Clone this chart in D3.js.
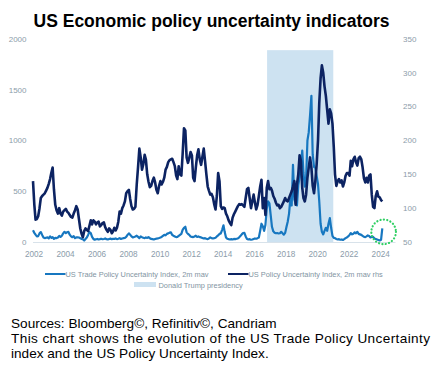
<!DOCTYPE html>
<html><head><meta charset="utf-8">
<script src="https://cdnjs.cloudflare.com/ajax/libs/d3/7.8.5/d3.min.js"></script>
<style>body{margin:0;background:#fff;}svg{display:block;font-family:"Liberation Sans",Arial,sans-serif;}</style>
</head><body>
<script>
// ---- data (monthly, starting Jan 2002) ----
const startYear = 2002;
const tradePolicyUncertainty = [
115,90,72,55,58,85,98,70,45,38,42,45,
36,55,40,48,30,40,38,45,60,50,62,85,
100,88,96,100,72,55,47,58,38,45,46,44,
38,30,27,14,30,45,70,98,88,50,30,22,
27,30,25,28,32,27,30,35,28,25,30,33,
28,32,30,35,28,32,38,30,35,38,40,50,
70,85,72,55,45,50,55,62,50,38,55,48,
42,38,45,40,48,36,30,28,25,30,33,36,
40,45,50,60,70,66,80,85,92,95,70,62,
55,48,50,60,70,80,120,140,150,95,80,70,
55,50,48,55,62,50,55,48,45,40,35,38,
32,28,35,45,38,35,38,42,55,65,80,85,
120,165,100,45,32,28,25,28,25,30,28,32,
35,45,60,75,88,90,55,30,25,28,22,25,
30,35,32,38,45,110,180,155,110,170,330,400,
380,260,150,105,92,86,88,84,86,100,86,72,
90,150,200,280,430,360,760,420,380,360,560,640,
760,900,680,545,620,1000,1080,1250,1440,860,740,730,
650,570,400,180,100,75,110,140,110,180,235,140,
60,40,38,30,25,28,22,25,20,28,38,45,
55,70,88,75,82,95,85,100,80,75,70,60,
52,48,55,65,60,45,52,50,35,30,25,20,
15,22,135];
const policyUncertainty = [
140,105,83,84,88,100,115,118,120,122,126,130,
136,143,152,160,128,105,97,92,100,92,89,95,
97,99,95,93,90,87,86,92,97,103,98,84,
70,62,57,66,70,68,66,74,82,76,82,80,
76,79,80,73,75,78,79,72,68,65,70,68,
63,66,71,67,71,80,95,92,100,104,110,122,
125,127,114,103,98,99,102,135,161,188,175,157,
165,179,172,150,139,131,133,140,145,138,127,122,
133,140,135,139,145,157,161,168,171,172,173,168,
162,148,143,162,150,148,180,218,215,175,167,174,
183,178,145,140,160,178,187,172,164,176,188,170,
150,132,126,120,121,116,106,98,118,152,140,103,
99,101,100,92,88,82,78,75,86,91,95,99,
103,106,105,106,104,102,115,128,130,115,100,110,
120,108,98,105,118,132,142,100,115,90,130,140,
128,130,126,118,114,108,104,105,100,102,106,110,
115,111,110,115,120,125,132,140,105,135,150,178,
170,130,115,110,120,145,160,175,160,133,122,140,
165,200,255,292,311,300,280,266,245,225,246,240,
225,190,150,133,140,143,138,141,132,138,148,152,
152,148,170,162,172,176,168,163,174,176,172,160,
144,138,145,138,148,150,120,102,100,118,125,117,
116,112,110];
const leftTicks = [0,500,1000,1500,2000];
const rightTicks = [50,100,150,200,250,300,350];
const yearTicks = [2002,2004,2006,2008,2010,2012,2014,2016,2018,2020,2022,2024];
const trumpStart = new Date(2016,10,8), trumpEnd = new Date(2021,0,20);
const bandTopValue = 1890;
const highlight = {date: new Date(2024,3,1), value: 100};

const title = "US Economic policy uncertainty indicators";
const seriesNames = ["US Trade Policy Uncertainty Index, 2m mav","US Policy Uncertainty Index, 2m mav rhs","Donald Trump presidency"];
const footer = ["Sources: Bloomberg©, Refinitiv©, Candriam",
"This chart shows the evolution of the US Trade Policy Uncertainty",
"index and the US Policy Uncertainty Index."];

// ---- chart ----
const W=444,H=370;
const svg=d3.select("body").append("svg").attr("width",W).attr("height",H);
const x=d3.scaleTime().domain([new Date(2002,0,1),new Date(2025,0,1)]).range([33,395.5]);
const yL=d3.scaleLinear().domain([0,2000]).range([242,39]);
const yR=d3.scaleLinear().domain([50,350]).range([242,39]);
const date=i=>d3.timeMonth.offset(new Date(startYear,0,1),i);
const tickCol="#8c9caa", legCol="#8294a2";
const cLight="#1777c0", cDark="#0c2362", cBand="#cde2f1";

svg.append("text").attr("x",211.5).attr("y",27).attr("text-anchor","middle")
  .attr("font-size",17.5).attr("font-weight","bold").attr("fill","#000").text(title);

// band
svg.append("rect").attr("x",x(trumpStart)).attr("width",x(trumpEnd)-x(trumpStart))
  .attr("y",yL(bandTopValue)).attr("height",yL(0)-yL(bandTopValue)).attr("fill",cBand);

// baseline
svg.append("line").attr("x1",33).attr("x2",395.5).attr("y1",yL(0)+0.5).attr("y2",yL(0)+0.5)
  .attr("stroke","#d8e2ea").attr("stroke-width",1);

// axes labels
svg.append("g").selectAll("text").data(leftTicks).join("text")
  .attr("x",26.5).attr("y",d=>yL(d)).attr("dy","0.35em").attr("text-anchor","end")
  .attr("font-size",8).attr("fill",tickCol).text(d=>d);
svg.append("g").selectAll("text").data(rightTicks).join("text")
  .attr("x",403).attr("y",d=>yR(d)).attr("dy","0.35em").attr("text-anchor","start")
  .attr("font-size",8).attr("fill",tickCol).text(d=>d);
svg.append("g").selectAll("text").data(yearTicks).join("text")
  .attr("x",d=>x(new Date(d,0,1))+1).attr("y",257).attr("text-anchor","middle")
  .attr("font-size",8.2).attr("fill",tickCol).text(d=>d);

// lines
const lineL=d3.line().x((d,i)=>x(date(i))).y(d=>yL(d));
const lineR=d3.line().x((d,i)=>x(date(i))).y(d=>yR(d));
svg.append("path").datum(tradePolicyUncertainty).attr("d",lineL).attr("fill","none")
  .attr("stroke",cLight).attr("stroke-width",2.2).attr("stroke-linejoin","round");
svg.append("path").datum(policyUncertainty).attr("d",lineR).attr("fill","none")
  .attr("stroke",cDark).attr("stroke-width",2.6).attr("stroke-linejoin","round");

// highlight circle
svg.append("circle").attr("cx",x(highlight.date)).attr("cy",yL(highlight.value)).attr("r",12.3)
  .attr("fill","none").attr("stroke","#2fcf63").attr("stroke-width",2.2)
  .attr("stroke-dasharray","0.1 3.3").attr("stroke-linecap","round");

// legend
const lg=svg.append("g").attr("font-size",7.4).attr("fill",legCol);
lg.append("line").attr("x1",45).attr("x2",65.5).attr("y1",274).attr("y2",274).attr("stroke",cLight).attr("stroke-width",2);
lg.append("text").attr("x",65.5).attr("y",276.6).text(seriesNames[0]);
lg.append("line").attr("x1",228).attr("x2",248.5).attr("y1",274).attr("y2",274).attr("stroke",cDark).attr("stroke-width",2);
lg.append("text").attr("x",248.5).attr("y",276.6).text(seriesNames[1]);
lg.append("rect").attr("x",134).attr("y",282).attr("width",22).attr("height",5).attr("fill",cBand);
lg.append("text").attr("x",158.5).attr("y",287.6).text(seriesNames[2]);

// footer
const ft=svg.append("g").attr("font-size",13.6).attr("fill","#000");
ft.append("text").attr("x",11).attr("y",328.3).text(footer[0]);
ft.append("text").attr("x",11).attr("y",343.3).attr("textLength",419).attr("lengthAdjust","spacing").text(footer[1]);
ft.append("text").attr("x",11).attr("y",358.3).text(footer[2]);
</script>
</body></html>
